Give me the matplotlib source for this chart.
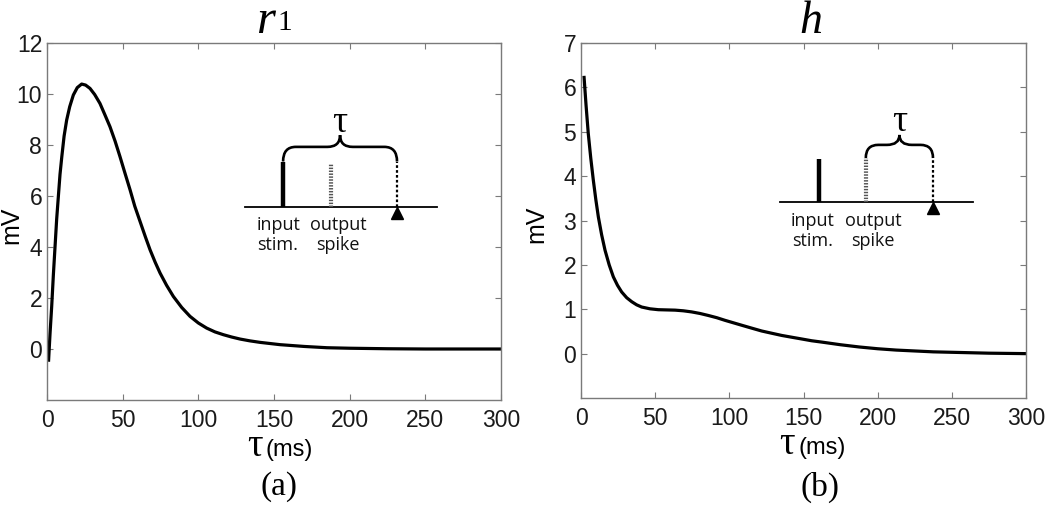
import matplotlib
matplotlib.use("Agg")
import matplotlib.pyplot as plt
from matplotlib.path import Path
from matplotlib.patches import PathPatch

# ---------------- data ----------------
r1_t = [1, 2, 3.1, 4.2, 5.3, 6.4, 7.5, 8.6, 9.8, 11.3, 13, 15, 17.4, 20, 22.9,
        25.5, 28.4, 31.5, 35, 38, 41.6, 45, 48.2, 51.5, 54.9, 58, 61.5, 65,
        68.1, 71.5, 74.7, 79, 83.5, 89, 94.5, 100, 105.5, 111, 116.6, 122,
        127.6, 134, 140.8, 154, 170, 185, 200, 225, 250, 300]
r1_v = [-0.5, 0.6, 1.67, 2.9, 4.0, 5.1, 5.98, 6.85, 7.55, 8.35, 8.98, 9.5, 9.96,
        10.25, 10.39, 10.35, 10.22, 9.98, 9.63, 9.22, 8.72, 8.15, 7.55, 6.9,
        6.24, 5.6, 5.0, 4.4, 3.89, 3.4, 2.98, 2.5, 2.06, 1.63, 1.28, 1.02,
        0.82, 0.67, 0.56, 0.47, 0.39, 0.32, 0.26, 0.17, 0.1, 0.05, 0.03, 0.01,
        0.0, 0.0]

h_t = [2, 3.4, 4.9, 6.6, 8.3, 10, 11.7, 13.9, 16.2, 19, 21.8, 24.6, 27.4, 30.8,
       34.2, 37.5, 40.9, 46.5, 52.1, 57.7, 63.4, 69, 74.6, 80.2, 85.8, 91.5,
       97.1, 102.7, 108.3, 115, 121.8, 128.5, 135.3, 142, 148.8, 155.5, 162.3,
       175, 187.5, 200, 212.5, 225, 237.5, 250, 275, 300]
h_v = [6.26, 5.6, 4.96, 4.4, 3.91, 3.47, 3.08, 2.68, 2.33, 2.0, 1.73, 1.54,
       1.39, 1.26, 1.17, 1.1, 1.05, 1.01, 0.99, 0.985, 0.98, 0.965, 0.94,
       0.905, 0.86, 0.81, 0.75, 0.695, 0.64, 0.575, 0.51, 0.46, 0.41, 0.37,
       0.33, 0.29, 0.26, 0.2, 0.15, 0.11, 0.08, 0.06, 0.04, 0.03, 0.01, 0.0]

x_ticks = [0, 50, 100, 150, 200, 250, 300]
r1_yticks = [0, 2, 4, 6, 8, 10, 12]
h_yticks = [0, 1, 2, 3, 4, 5, 6, 7]
panel_labels = ["(a)", "(b)"]

SANS = "Liberation Sans"
SERIF = "Liberation Serif"
INSET_FONT = "Open Sans"
GRAY = "#7a7a7a"

fig = plt.figure(figsize=(10.5, 5.05), dpi=100)
axL = fig.add_axes([47 / 1050, 105 / 505, 454 / 1050, 357 / 505])
axR = fig.add_axes([581 / 1050, 107 / 505, 445 / 1050, 355 / 505])


def style(ax, yticks, ylim):
    ax.set_xlim(0, 300)
    ax.set_ylim(*ylim)
    ax.set_xticks(x_ticks)
    ax.set_yticks(yticks)
    ax.set_xticklabels([str(v) for v in x_ticks])
    ax.set_yticklabels([str(v) for v in yticks])
    ax.tick_params(direction="in", length=4, width=0.8, color=GRAY,
                   top=True, right=True, labelsize=16.5, labelcolor="#1a1a1a")
    ax.tick_params(axis="x", pad=6.5)
    ax.tick_params(axis="y", pad=3.5)
    for lab in ax.get_xticklabels() + ax.get_yticklabels():
        lab.set_family(SANS)
    for s in ax.spines.values():
        s.set_color(GRAY)
        s.set_linewidth(1.0)


style(axL, r1_yticks, (-2, 12))
style(axR, h_yticks, (-1, 7))

axL.plot(r1_t, r1_v, color="black", lw=2.3, solid_capstyle="butt",
         solid_joinstyle="round")
axR.plot(h_t, h_v, color="black", lw=2.3, solid_capstyle="butt",
         solid_joinstyle="round")


def brace(ax, xl, xr, yb, yt, tip, rx):
    xm = (xl + xr) / 2
    verts = [(xl, yb), (xl, yt), (xl + rx, yt),
             (xm - rx, yt),
             (xm, yt), (xm, tip),
             (xm, yt), (xm + rx, yt),
             (xr - rx, yt),
             (xr, yt), (xr, yb)]
    codes = [Path.MOVETO, Path.CURVE3, Path.CURVE3,
             Path.LINETO,
             Path.CURVE3, Path.CURVE3,
             Path.CURVE3, Path.CURVE3,
             Path.LINETO,
             Path.CURVE3, Path.CURVE3]
    ax.add_patch(PathPatch(Path(verts, codes), fill=False, lw=1.9,
                           edgecolor="black", transform=ax.transAxes,
                           clip_on=False))


def inset(ax, base_y, x0, x1, xin, xout, xdot, top_in, top_out, brace_l,
          yb, yt, tip, xtxt_in, xtxt_out, ytxt, tau_y):
    tr = ax.transAxes
    ax.plot([x0, x1], [base_y, base_y], color="black", lw=1.3, transform=tr,
            clip_on=False)
    ax.plot([xin, xin], [base_y, top_in], color="black", lw=3.2,
            transform=tr, clip_on=False, solid_capstyle="butt")
    ax.plot([xout, xout], [base_y, top_out], color="#555555", lw=3.0,
            linestyle=(0, (0.35, 0.35)), transform=tr, clip_on=False)
    ax.plot([xdot, xdot], [base_y, yb], color="black", lw=1.6,
            linestyle=(0, (1.2, 1.0)), transform=tr, clip_on=False)
    ax.plot([xdot], [base_y - 0.018], marker="^", color="black", ms=9,
            transform=tr, clip_on=False)
    brace(ax, brace_l, xdot, yb, yt, tip, 0.028)
    ax.text((brace_l + xdot) / 2, tau_y, "τ", family=SERIF, fontsize=27,
            ha="center", va="baseline", transform=tr)
    ax.text(xtxt_in, ytxt, "input\nstim.", family=INSET_FONT, fontsize=13,
            ha="center", va="top", linespacing=1.15, color="#111111",
            transform=tr)
    ax.text(xtxt_out, ytxt, "output\nspike", family=INSET_FONT, fontsize=13,
            ha="center", va="top", linespacing=1.15, color="#111111",
            transform=tr)


inset(axL, 0.541, 0.436, 0.859, 0.520, 0.626, 0.771, 0.668, 0.661, 0.520,
      0.668, 0.709, 0.742, 0.509, 0.641, 0.515, 0.752)
inset(axR, 0.552, 0.447, 0.881, 0.535, 0.640, 0.791, 0.673, 0.676, 0.640,
      0.676, 0.713, 0.741, 0.521, 0.656, 0.525, 0.752)

# titles
axL.text(0.502, 1.028, "r", family=SERIF, style="italic", fontsize=35,
         ha="right", va="baseline", transform=axL.transAxes)
axL.text(0.508, 1.036, "1", family=SERIF, fontsize=21,
         ha="left", va="baseline", transform=axL.transAxes)
axR.text(0.517, 1.028, "h", family=SERIF, style="italic", fontsize=33,
         ha="center", va="baseline", transform=axR.transAxes)

# x labels
for ax, xt, xm in ((axL, 0.476, 0.482), (axR, 0.481, 0.488)):
    ax.text(xt, -0.158, "τ", family=SERIF, fontsize=28, ha="right",
            va="baseline", transform=ax.transAxes)
    ax.text(xm, -0.158, "(ms)", family=SANS, fontsize=17, ha="left",
            va="baseline", transform=ax.transAxes)

# y labels
axL.text(-0.078, 0.49, "mV", family=SANS, fontsize=18, rotation=90,
         ha="center", va="center", transform=axL.transAxes)
axR.text(-0.100, 0.49, "mV", family=SANS, fontsize=18, rotation=90,
         ha="center", va="center", transform=axR.transAxes)

# panel labels
fig.text(279 / 1050, 18 / 505, panel_labels[0], family=SERIF, fontsize=24,
         ha="center", va="center")
fig.text(820 / 1050, 18 / 505, panel_labels[1], family=SERIF, fontsize=24,
         ha="center", va="center")

fig.savefig("out.png", dpi=100)
